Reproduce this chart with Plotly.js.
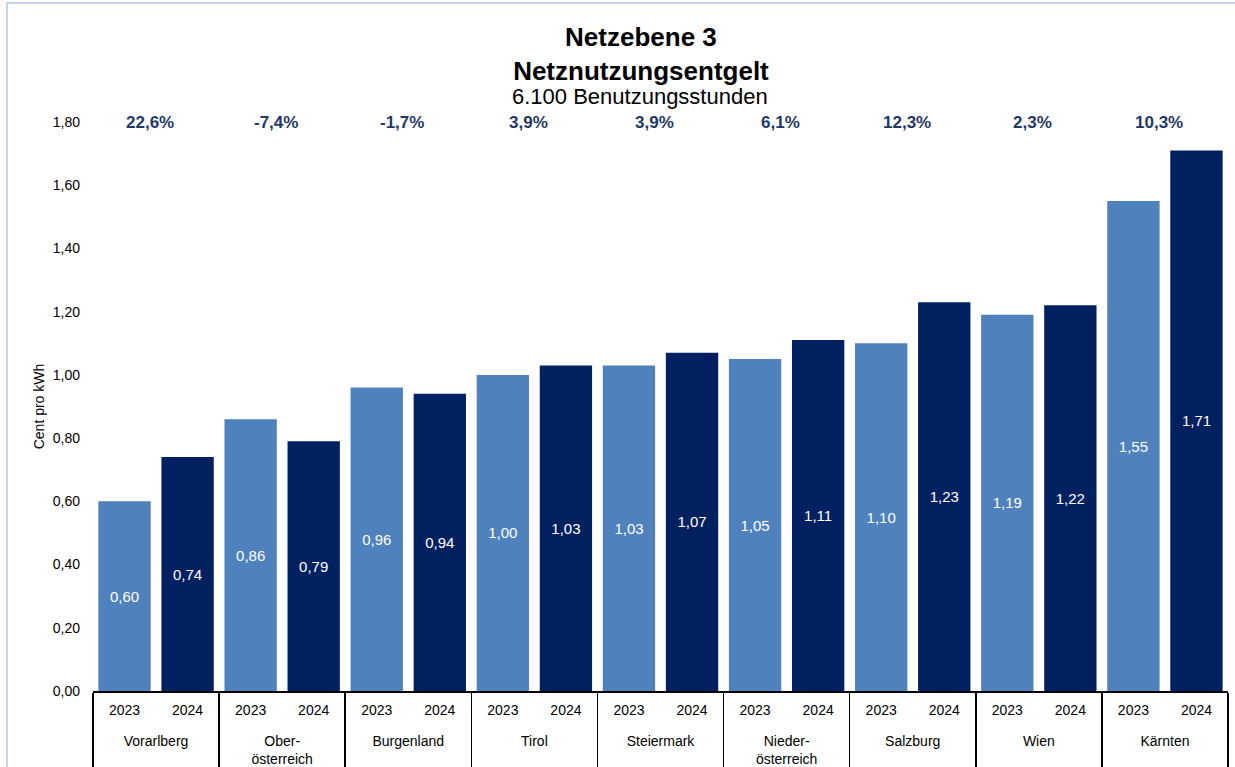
<!DOCTYPE html>
<html>
<head>
<meta charset="utf-8">
<script src="https://cdn.plot.ly/plotly-3.0.1.min.js"></script>
<style>
  html, body { margin: 0; padding: 0; background: #fff; }
  #chart { width: 1235px; height: 767px; }
</style>
</head>
<body>
<div id="chart"></div>
<script>
var regions = ['Vorarlberg', 'Ober-<br>österreich', 'Burgenland', 'Tirol', 'Steiermark',
               'Nieder-<br>österreich', 'Salzburg', 'Wien', 'Kärnten'];
var years = ['2023', '2024'];
var values2023 = [0.60, 0.86, 0.96, 1.00, 1.03, 1.05, 1.10, 1.19, 1.55];
var values2024 = [0.74, 0.79, 0.94, 1.03, 1.07, 1.11, 1.23, 1.22, 1.71];
var changes = ['22,6%', '-7,4%', '-1,7%', '3,9%', '3,9%', '6,1%', '12,3%', '2,3%', '10,3%'];

var FONT = 'Liberation Sans, Arial, sans-serif';

function yearRow(y) { return regions.map(function () { return y; }); }
// leading blank line pushes the region row a bit lower, like the original
var regionRow = regions.map(function (r) { return '<br>' + r; });

function barTrace(year, vals, color) {
    return {
        type: 'bar',
        name: year,
        x: [regionRow, yearRow(year)],
        y: vals,
        marker: { color: color },
        texttemplate: '%{y:.2f}',
        textposition: 'inside',
        insidetextanchor: 'middle',
        textfont: { color: '#ffffff', size: 15, family: FONT },
        hoverinfo: 'y'
    };
}

var notes = changes.map(function (c, i) {
    return {
        x: 2 * i + 0.5, y: 1.8, xref: 'x', yref: 'y',
        text: '<b>' + c + '</b>', showarrow: false,
        yanchor: 'middle', xshift: -6,
        font: { size: 17, color: '#1f3864', family: FONT }
    };
});
notes.push({
    x: 0.482, y: 1.044, xref: 'paper', yref: 'paper',
    text: '6.100 Benutzungsstunden', showarrow: false,
    xanchor: 'center', yanchor: 'middle',
    font: { size: 22, color: '#000000', family: FONT }
});

var layout = {
    width: 1235,
    height: 767,
    margin: { l: 93, r: 7, t: 122, b: 76 },
    paper_bgcolor: '#ffffff',
    plot_bgcolor: '#ffffff',
    font: { family: FONT, size: 14, color: '#000000' },
    separators: ',.',
    showlegend: false,
    barmode: 'overlay',
    bargap: 0.17,
    title: {
        text: '<b>Netzebene 3</b><br><b>Netznutzungsentgelt</b>',
        font: { size: 26, family: FONT, color: '#000000' },
        x: 0.519, xanchor: 'center',
        y: 0.94, yref: 'container', yanchor: 'top'
    },
    xaxis: {
        type: 'multicategory',
        showline: true,
        linecolor: '#000000',
        linewidth: 1.5,
        showgrid: false,
        ticks: '',
        ticklabelstandoff: 6,
        showdividers: true,
        dividercolor: '#000000',
        dividerwidth: 1.5,
        tickfont: { size: 14, family: FONT, color: '#000000' },
        range: [-0.5, 17.5]
    },
    yaxis: {
        range: [0, 1.8],
        dtick: 0.2,
        tickformat: '.2f',
        showgrid: false,
        zeroline: false,
        showline: false,
        ticks: '',
        ticklabelstandoff: 12,
        tickfont: { size: 14, family: FONT, color: '#000000' },
        title: { text: 'Cent pro kWh', font: { size: 14, family: FONT }, standoff: 4 }
    },
    annotations: notes,
    shapes: [{
        type: 'rect', xref: 'paper', yref: 'paper',
        x0: -0.0758, x1: 1.02, y0: -0.2, y1: 1.209,
        line: { color: '#b4c7e7', width: 1.5 }, fillcolor: 'rgba(0,0,0,0)', layer: 'below'
    }]
};

Plotly.newPlot('chart', [barTrace(years[0], values2023, '#4f81bd'), barTrace(years[1], values2024, '#002060')],
    layout, { displayModeBar: false, staticPlot: true });
</script>
</body>
</html>
